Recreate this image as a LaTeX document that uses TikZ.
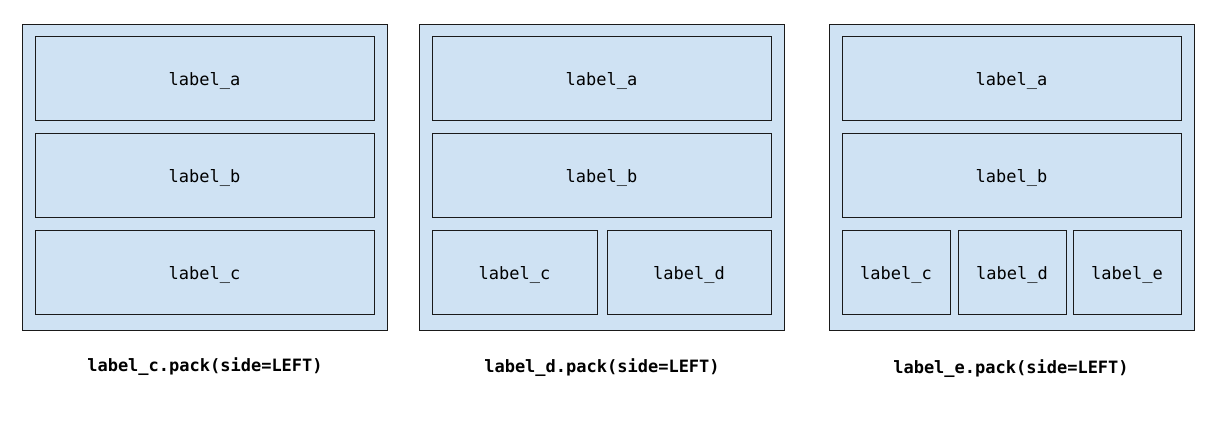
\documentclass[tikz,border=0pt]{standalone}
\usepackage{fontspec}
\setmonofont{DejaVu Sans Mono}
\definecolor{packfill}{RGB}{207,226,243}
\definecolor{packline}{RGB}{26,26,26}
\begin{document}
\begin{tikzpicture}[x=1pt,y=1pt,yscale=-1,
    panel/.style={draw=packline,fill=packfill,line width=1pt,minimum width=365pt,minimum height=305pt,inner sep=0pt},
    slot/.style={draw=packline,fill=packfill,line width=1pt,minimum height=84pt,inner sep=0pt,text depth=0pt,font=\fontsize{17}{20}\selectfont\ttfamily},
    caption/.style={inner sep=0pt,font=\fontsize{17}{20}\selectfont\ttfamily\bfseries}]
    \useasboundingbox (0,0) rectangle (1217,427);

    %Shape: Panel c
    \node [panel] (panC) at (204.5,177.5) {};
    \node [slot,minimum width=339pt] (cA) at (204.5,79) {label\_a};
    \node [slot,minimum width=339pt] (cB) at (204.5,176) {label\_b};
    \node [slot,minimum width=339pt] (cC) at (204.5,273) {label\_c};

    %Shape: Panel d
    \node [panel] (panD) at (601.5,177.5) {};
    \node [slot,minimum width=339pt] (dA) at (601.5,79) {label\_a};
    \node [slot,minimum width=339pt] (dB) at (601.5,176) {label\_b};
    \node [slot,minimum width=165pt] (dC) at (514.5,273) {label\_c};
    \node [slot,minimum width=164pt] (dD) at (689,273) {label\_d};

    %Shape: Panel e
    \node [panel] (panE) at (1011.5,177.5) {};
    \node [slot,minimum width=339pt] (eA) at (1011.5,79) {label\_a};
    \node [slot,minimum width=339pt] (eB) at (1011.5,176) {label\_b};
    \node [slot,minimum width=108pt] (eC) at (896,273) {label\_c};
    \node [slot,minimum width=108pt] (eD) at (1012,273) {label\_d};
    \node [slot,minimum width=108pt] (eE) at (1127,273) {label\_e};

    % Text Node
    \node [caption] (capC) at (205,367) {label\_c.pack(side=LEFT)};
    % Text Node
    \node [caption] (capD) at (602,368) {label\_d.pack(side=LEFT)};
    % Text Node
    \node [caption] (capE) at (1011,369) {label\_e.pack(side=LEFT)};

\end{tikzpicture}
\end{document}
